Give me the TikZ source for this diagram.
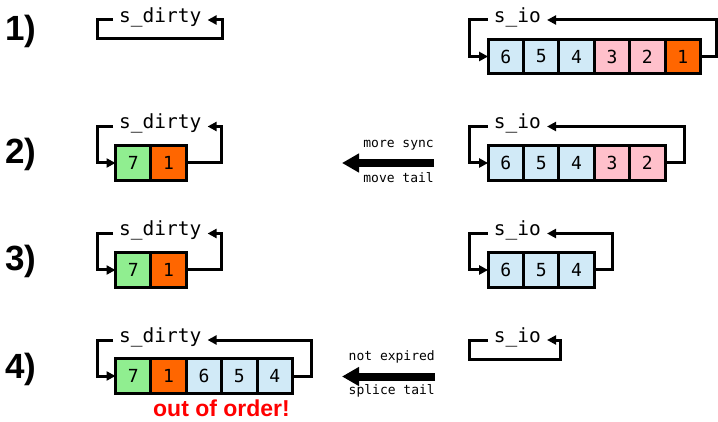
\documentclass[tikz,border=0pt]{standalone}
\usepackage{fontspec}
\setmonofont{DejaVu Sans Mono}
\newfontfamily\rowfont{Liberation Sans}
\usetikzlibrary{arrows.meta,positioning}

\definecolor{cellblue}{RGB}{209,234,247}
\definecolor{cellpink}{RGB}{255,192,203}
\definecolor{cellorange}{RGB}{255,102,0}
\definecolor{cellgreen}{RGB}{144,238,144}

\begin{document}
\begin{tikzpicture}[%
      x=1pt, y=-1pt,
      cell/.style={draw, line width=3pt, outer sep=0pt, inner sep=0pt,
        minimum width=35.4pt, minimum height=34.5pt,
        font=\ttfamily\fontsize{18}{18}\selectfont},
      listname/.style={anchor=west, inner xsep=6pt, inner ysep=0pt,
        text height=9.5pt, text depth=4.5pt,
        font=\ttfamily\fontsize{19.5}{20}\selectfont},
      wire/.style={line width=3pt, -{Triangle[length=9pt,width=9pt]}},
      bigarrow/.style={line width=8pt, -{Triangle[length=17pt,width=18pt]}},
      note/.style={anchor=base east, inner sep=0pt,
        font=\ttfamily\fontsize{13}{13}\selectfont},
      rowlabel/.style={anchor=base west, inner sep=0pt,
        font=\rowfont\bfseries\fontsize{35}{35}\selectfont},
      ]
      \useasboundingbox (0,0) rectangle (718,422);

      % 1)
      \node[rowlabel] (n1) at (5,40.5) {1)};
      \node[listname] (d1lab) at (113,20) {s\_dirty};
      \coordinate (d1r) at (222,39);
      \draw[wire] (d1lab.west) -- ++(-16,0) |- (d1r) |- (d1lab.east);

      \node[listname] (i1lab) at (487.7,20) {s\_io};
      \node[cell, fill=cellblue] (i1a) at (505.8,56.5) {6};
      \node[cell, fill=cellblue, right=0pt of i1a] (i1b) {5};
      \node[cell, fill=cellblue, right=0pt of i1b] (i1c) {4};
      \node[cell, fill=cellpink, right=0pt of i1c] (i1d) {3};
      \node[cell, fill=cellpink, right=0pt of i1d] (i1e) {2};
      \node[cell, fill=cellorange, right=0pt of i1e] (i1f) {1};
      \coordinate (i1r) at (716.5,20);
      \draw[wire] (i1lab.west) -- ++(-18,0) |- (i1a.west);
      \draw[wire] (i1f.east) -| (i1r) -- (i1lab.east);

      % 2)
      \node[rowlabel] (n2) at (5,163.5) {2)};
      \node[listname] (d2lab) at (113,126.5) {s\_dirty};
      \node[cell, fill=cellgreen] (d2a) at (133.2,163) {7};
      \node[cell, fill=cellorange, right=0pt of d2a] (d2b) {1};
      \coordinate (d2r) at (221,126.5);
      \draw[wire] (d2lab.west) -- ++(-16,0) |- (d2a.west);
      \draw[wire] (d2b.east) -| (d2r) -- (d2lab.east);

      \node[note] (m2top) at (434,147.7) {more sync};
      \node[note] (m2bot) at (434,182.7) {move tail};
      \coordinate (m2from) at (434,163);
      \coordinate (m2to) at (342,163);
      \draw[bigarrow] (m2from) -- (m2to);

      \node[listname] (i2lab) at (487.7,126.5) {s\_io};
      \node[cell, fill=cellblue] (i2a) at (505.8,163) {6};
      \node[cell, fill=cellblue, right=0pt of i2a] (i2b) {5};
      \node[cell, fill=cellblue, right=0pt of i2b] (i2c) {4};
      \node[cell, fill=cellpink, right=0pt of i2c] (i2d) {3};
      \node[cell, fill=cellpink, right=0pt of i2d] (i2e) {2};
      \coordinate (i2r) at (684,126.5);
      \draw[wire] (i2lab.west) -- ++(-18,0) |- (i2a.west);
      \draw[wire] (i2e.east) -| (i2r) -- (i2lab.east);

      % 3)
      \node[rowlabel] (n3) at (5,271) {3)};
      \node[listname] (d3lab) at (113,233.5) {s\_dirty};
      \node[cell, fill=cellgreen] (d3a) at (133.2,270) {7};
      \node[cell, fill=cellorange, right=0pt of d3a] (d3b) {1};
      \coordinate (d3r) at (221,233.5);
      \draw[wire] (d3lab.west) -- ++(-16,0) |- (d3a.west);
      \draw[wire] (d3b.east) -| (d3r) -- (d3lab.east);

      \node[listname] (i3lab) at (487.7,233.5) {s\_io};
      \node[cell, fill=cellblue] (i3a) at (505.8,270) {6};
      \node[cell, fill=cellblue, right=0pt of i3a] (i3b) {5};
      \node[cell, fill=cellblue, right=0pt of i3b] (i3c) {4};
      \coordinate (i3r) at (612,233.5);
      \draw[wire] (i3lab.west) -- ++(-18,0) |- (i3a.west);
      \draw[wire] (i3c.east) -| (i3r) -- (i3lab.east);

      % 4)
      \node[rowlabel] (n4) at (5,378.5) {4)};
      \node[listname] (d4lab) at (113,340) {s\_dirty};
      \node[cell, fill=cellgreen] (d4a) at (133.2,376) {7};
      \node[cell, fill=cellorange, right=0pt of d4a] (d4b) {1};
      \node[cell, fill=cellblue, right=0pt of d4b] (d4c) {6};
      \node[cell, fill=cellblue, right=0pt of d4c] (d4d) {5};
      \node[cell, fill=cellblue, right=0pt of d4d] (d4e) {4};
      \coordinate (d4r) at (311,340);
      \draw[wire] (d4lab.west) -- ++(-16,0) |- (d4a.west);
      \draw[wire] (d4e.east) -| (d4r) -- (d4lab.east);

      \node[rowlabel, anchor=base, text=red, font=\rowfont\bfseries\fontsize{23}{23}\selectfont]
        (oops) at (221.5,416.5) {out of order!};

      \node[note] (m4top) at (435,360.7) {not expired};
      \node[note] (m4bot) at (435,394) {splice tail};
      \coordinate (m4from) at (435,376.5);
      \coordinate (m4to) at (342,376.5);
      \draw[bigarrow] (m4from) -- (m4to);

      \node[listname] (i4lab) at (487.7,340) {s\_io};
      \coordinate (i4r) at (560,359);
      \draw[wire] (i4lab.west) -- ++(-18,0) |- (i4r) |- (i4lab.east);
      \end{tikzpicture}
\end{document}
